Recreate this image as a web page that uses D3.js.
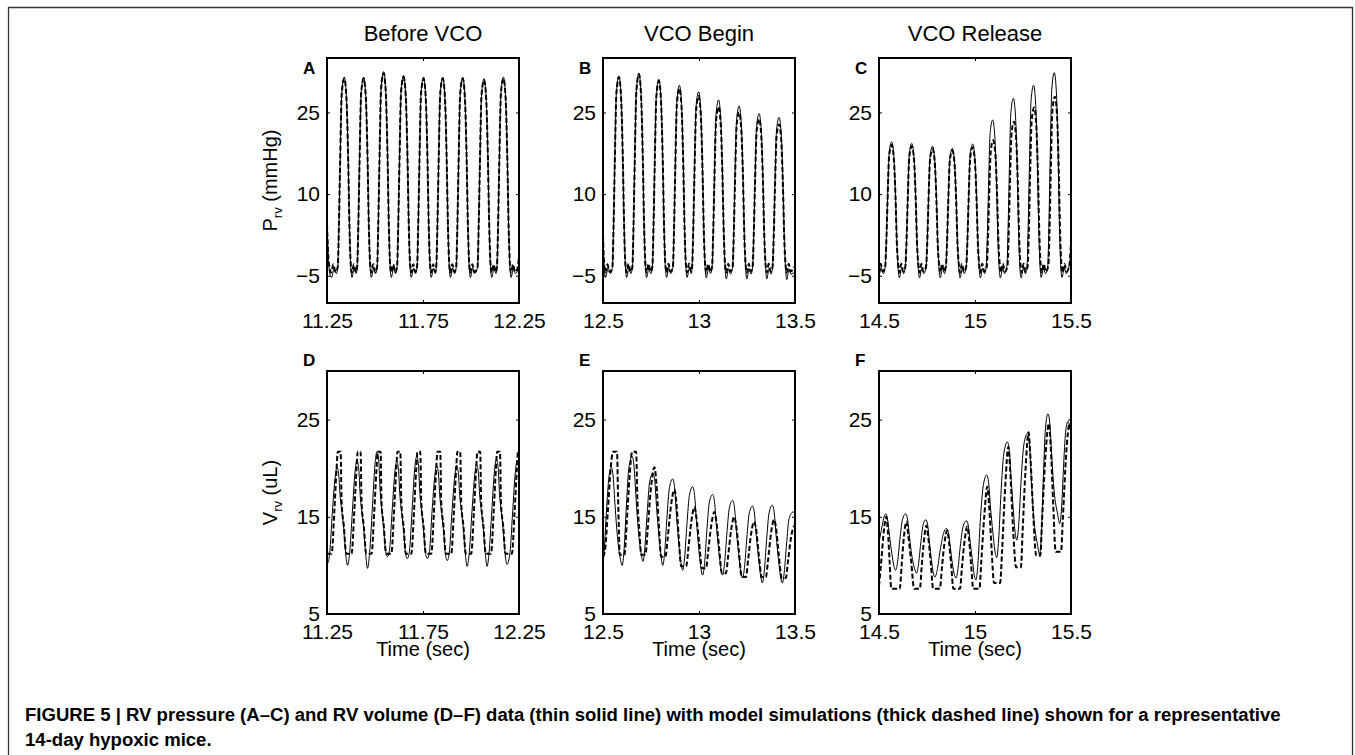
<!DOCTYPE html>
<html>
<head>
<meta charset="utf-8">
<script src="https://cdn.jsdelivr.net/npm/d3@7"></script>
<style>
body { margin: 0; background: #fff; }
svg { display: block; font-family: "Liberation Sans", Arial, Helvetica, sans-serif; }
</style>
</head>
<body>
<svg width="1355" height="755"></svg>
<script>
// ---- data: [time (sec), value] ----

var titles = ["Before VCO", "VCO Begin", "VCO Release"];
var letters = ["A", "B", "C", "D", "E", "F"];
var xDomains = [[11.25, 12.25], [12.5, 13.5], [14.5, 15.5]];
var xTickValues = [[11.25, 11.75, 12.25], [12.5, 13, 13.5], [14.5, 15, 15.5]];
var pressureDomain = [-10, 35];
var pressureTicks = [-5, 10, 25];
var volumeDomain = [5, 30];
var volumeTicks = [5, 15, 25];
var captionLines = [
  "FIGURE 5 | RV pressure (A\u2013C) and RV volume (D\u2013F) data (thin solid line) with model simulations (thick dashed line) shown for a representative",
  "14-day hypoxic mice."
];

// RV pressure, mmHg (thin solid = data, thick dashed = model)
var pressureDataA = [[11.25,5],[11.256,-1],[11.263,-4.3],[11.274,-5.3],[11.287,-3.6],[11.298,-4.6],
  [11.306,-3.4],[11.312,4.1],[11.318,15.1],[11.327,28.6],[11.340,31.5],[11.351,27.9],[11.360,16.9],[11.367,4.1],[11.374,-3.5],[11.380,-5.3],[11.392,-3.6],[11.402,-4.6],
  [11.407,-3.4],[11.413,4.1],[11.419,15.1],[11.428,28.6],[11.441,31.5],[11.452,27.9],[11.461,16.9],[11.468,4.1],[11.475,-3.5],[11.481,-5.3],[11.493,-3.6],[11.503,-4.6],
  [11.511,-3.4],[11.517,4.4],[11.523,15.6],[11.532,29.5],[11.545,32.5],[11.556,28.8],[11.565,17.5],[11.572,4.4],[11.579,-3.5],[11.585,-5.3],[11.597,-3.6],[11.607,-4.6],
  [11.615,-3.4],[11.621,4.2],[11.627,15.2],[11.636,28.9],[11.649,31.8],[11.660,28.1],[11.669,17.1],[11.676,4.2],[11.683,-3.5],[11.689,-5.3],[11.701,-3.6],[11.711,-4.6],
  [11.719,-3.4],[11.725,4.1],[11.731,15.1],[11.740,28.6],[11.753,31.5],[11.764,27.9],[11.773,16.9],[11.780,4.1],[11.787,-3.5],[11.793,-5.3],[11.805,-3.6],[11.815,-4.6],
  [11.819,-3.4],[11.825,4.1],[11.831,15.1],[11.840,28.6],[11.853,31.5],[11.864,27.9],[11.873,16.9],[11.880,4.1],[11.887,-3.5],[11.893,-5.3],[11.905,-3.6],[11.915,-4.6],
  [11.923,-3.4],[11.929,4.1],[11.935,15.1],[11.944,28.6],[11.957,31.5],[11.968,27.9],[11.977,16.9],[11.984,4.1],[11.991,-3.5],[11.997,-5.3],[12.009,-3.6],[12.019,-4.6],
  [12.034,-3.4],[12.040,4.1],[12.046,14.9],[12.055,28.3],[12.068,31.2],[12.079,27.6],[12.088,16.7],[12.095,4.1],[12.102,-3.5],[12.108,-5.3],[12.120,-3.6],[12.130,-4.6],
  [12.135,-3.4],[12.141,4.1],[12.147,15.1],[12.156,28.6],[12.169,31.5],[12.180,27.9],[12.189,16.9],[12.196,4.1],[12.203,-3.5],[12.209,-5.3],[12.221,-3.6],[12.231,-4.6],
  [12.241,-4.2],[12.25,-2.5]];

var pressureModelA = [[11.25,4.5],[11.256,-1],[11.263,-3.4],[11.272,-4.4],[11.283,-2.9],[11.294,-4.3],
  [11.306,-3.4],[11.312,4.1],[11.318,15.1],[11.327,28.6],[11.340,31.2],[11.351,27.9],[11.360,16.9],[11.367,4.1],[11.374,-3.0],[11.380,-4.4],[11.390,-2.9],[11.400,-4.3],
  [11.407,-3.4],[11.413,4.1],[11.419,15.1],[11.428,28.6],[11.441,31.2],[11.452,27.9],[11.461,16.9],[11.468,4.1],[11.475,-3.0],[11.481,-4.4],[11.491,-2.9],[11.501,-4.3],
  [11.511,-3.4],[11.517,4.4],[11.523,15.6],[11.532,29.5],[11.545,32.2],[11.556,28.8],[11.565,17.5],[11.572,4.4],[11.579,-3.0],[11.585,-4.4],[11.595,-2.9],[11.605,-4.3],
  [11.615,-3.4],[11.621,4.2],[11.627,15.2],[11.636,28.9],[11.649,31.5],[11.660,28.1],[11.669,17.1],[11.676,4.2],[11.683,-3.0],[11.689,-4.4],[11.699,-2.9],[11.709,-4.3],
  [11.719,-3.4],[11.725,4.1],[11.731,15.1],[11.740,28.6],[11.753,31.2],[11.764,27.9],[11.773,16.9],[11.780,4.1],[11.787,-3.0],[11.793,-4.4],[11.803,-2.9],[11.813,-4.3],
  [11.819,-3.4],[11.825,4.1],[11.831,15.1],[11.840,28.6],[11.853,31.2],[11.864,27.9],[11.873,16.9],[11.880,4.1],[11.887,-3.0],[11.893,-4.4],[11.903,-2.9],[11.913,-4.3],
  [11.923,-3.4],[11.929,4.1],[11.935,15.1],[11.944,28.6],[11.957,31.2],[11.968,27.9],[11.977,16.9],[11.984,4.1],[11.991,-3.0],[11.997,-4.4],[12.007,-2.9],[12.017,-4.3],
  [12.034,-3.4],[12.040,4.1],[12.046,14.9],[12.055,28.3],[12.068,30.9],[12.079,27.6],[12.088,16.7],[12.095,4.1],[12.102,-3.0],[12.108,-4.4],[12.118,-2.9],[12.128,-4.3],
  [12.135,-3.4],[12.141,4.1],[12.147,15.1],[12.156,28.6],[12.169,31.2],[12.180,27.9],[12.189,16.9],[12.196,4.1],[12.203,-3.0],[12.209,-4.4],[12.219,-2.9],[12.229,-4.3],
  [12.241,-3.8],[12.25,-1.5]];

var pressureDataB = [[12.5,3],[12.506,-3.5],[12.513,-5.3],[12.527,-3.6],[12.540,-4.6],
  [12.549,-3.4],[12.555,4.2],[12.561,15.2],[12.570,28.8],[12.583,31.7],[12.594,28.0],[12.603,17.0],[12.610,4.2],[12.617,-3.5],[12.623,-5.3],[12.635,-3.6],[12.645,-4.6],
  [12.653,-3.4],[12.659,4.3],[12.665,15.5],[12.674,29.2],[12.687,32.2],[12.698,28.5],[12.707,17.3],[12.714,4.3],[12.721,-3.5],[12.727,-5.3],[12.739,-3.6],[12.749,-4.6],
  [12.757,-3.4],[12.763,4.0],[12.769,14.9],[12.778,28.2],[12.791,31.1],[12.802,27.5],[12.811,16.7],[12.818,4.0],[12.825,-3.5],[12.831,-5.3],[12.843,-3.6],[12.853,-4.6],
  [12.864,-3.4],[12.870,3.8],[12.876,14.3],[12.885,27.2],[12.898,30.0],[12.909,26.5],[12.918,16.0],[12.925,3.8],[12.932,-3.5],[12.938,-5.3],[12.950,-3.6],[12.960,-4.6],
  [12.964,-3.4],[12.970,3.5],[12.976,13.6],[12.985,26.1],[12.998,28.8],[13.009,25.4],[13.018,15.3],[13.025,3.5],[13.032,-3.5],[13.038,-5.4],[13.050,-3.6],[13.060,-4.6],
  [13.068,-3.4],[13.074,3.1],[13.080,12.8],[13.089,24.7],[13.102,27.3],[13.113,24.1],[13.122,14.4],[13.129,3.1],[13.136,-3.6],[13.142,-5.6],[13.154,-3.7],[13.164,-4.7],
  [13.175,-3.4],[13.181,2.8],[13.187,12.2],[13.196,23.7],[13.209,26.2],[13.220,23.1],[13.229,13.7],[13.236,2.8],[13.243,-3.6],[13.249,-5.6],[13.261,-3.7],[13.271,-4.7],
  [13.279,-3.4],[13.285,2.5],[13.291,11.4],[13.300,22.4],[13.313,24.8],[13.324,21.8],[13.333,12.9],[13.340,2.5],[13.347,-3.6],[13.353,-5.6],[13.365,-3.7],[13.375,-4.7],
  [13.383,-3.4],[13.389,2.3],[13.395,11.0],[13.404,21.8],[13.417,24.1],[13.428,21.2],[13.437,12.5],[13.444,2.3],[13.451,-3.7],[13.457,-5.7],[13.469,-3.8],[13.479,-4.7],
  [13.5,-4.2]];

var pressureModelB = [[12.5,2.5],[12.506,-3],[12.512,-4.4],[12.523,-2.9],[12.535,-4.3],
  [12.549,-3.4],[12.555,4.1],[12.561,15.1],[12.570,28.6],[12.583,31.5],[12.594,27.9],[12.603,16.9],[12.610,4.1],[12.617,-3.0],[12.623,-4.4],[12.633,-2.8],[12.643,-4.2],
  [12.653,-3.4],[12.659,4.3],[12.665,15.4],[12.674,29.0],[12.687,32.0],[12.698,28.3],[12.707,17.2],[12.714,4.3],[12.721,-3.0],[12.727,-4.4],[12.737,-2.8],[12.747,-4.2],
  [12.757,-3.4],[12.763,4.0],[12.769,14.7],[12.778,27.9],[12.791,30.8],[12.802,27.2],[12.811,16.5],[12.818,4.0],[12.825,-3.0],[12.831,-4.4],[12.841,-2.8],[12.851,-4.2],
  [12.864,-3.4],[12.870,3.6],[12.876,13.9],[12.885,26.6],[12.898,29.4],[12.909,26.0],[12.918,15.6],[12.925,3.6],[12.932,-3.0],[12.938,-4.4],[12.948,-2.8],[12.958,-4.2],
  [12.964,-3.4],[12.970,3.3],[12.976,13.2],[12.985,25.4],[12.998,28.0],[13.009,24.7],[13.018,14.8],[13.025,3.3],[13.032,-3.0],[13.038,-4.4],[13.048,-2.8],[13.058,-4.2],
  [13.068,-3.4],[13.074,2.8],[13.080,12.1],[13.089,23.5],[13.102,26.0],[13.113,22.9],[13.122,13.6],[13.129,2.8],[13.136,-3.0],[13.142,-4.4],[13.152,-2.8],[13.162,-4.2],
  [13.175,-3.4],[13.181,2.5],[13.187,11.5],[13.196,22.6],[13.209,25.0],[13.220,22.0],[13.229,13.0],[13.236,2.5],[13.243,-3.0],[13.249,-4.4],[13.259,-2.8],[13.269,-4.2],
  [13.279,-3.4],[13.285,2.2],[13.291,10.8],[13.300,21.5],[13.313,23.8],[13.324,20.9],[13.333,12.3],[13.340,2.2],[13.347,-3.0],[13.353,-4.4],[13.363,-2.8],[13.373,-4.2],
  [13.383,-3.4],[13.389,2.0],[13.395,10.3],[13.404,20.6],[13.417,22.8],[13.428,20.0],[13.437,11.7],[13.444,2.0],[13.451,-3.0],[13.457,-4.4],[13.467,-2.8],[13.477,-4.2],
  [13.490,-3.8],[13.5,-3.2]];

var pressureDataC = [[14.5,-5.3],[14.512,-3.6],[14.523,-4.6],
  [14.532,-3.4],[14.538,1.2],[14.544,8.5],[14.553,17.6],[14.566,19.6],[14.577,17.1],[14.586,9.8],[14.593,1.2],[14.600,-3.8],[14.606,-5.4],[14.618,-3.6],[14.628,-4.6],
  [14.637,-3.4],[14.643,1.1],[14.649,8.4],[14.658,17.4],[14.671,19.3],[14.682,16.9],[14.691,9.6],[14.698,1.1],[14.705,-3.8],[14.711,-5.4],[14.723,-3.6],[14.733,-4.6],
  [14.745,-3.4],[14.751,1.0],[14.757,8.1],[14.766,16.9],[14.779,18.8],[14.790,16.4],[14.799,9.3],[14.806,1.0],[14.813,-3.8],[14.819,-5.4],[14.831,-3.6],[14.841,-4.6],
  [14.848,-3.4],[14.854,0.9],[14.860,7.9],[14.869,16.5],[14.882,18.4],[14.893,16.1],[14.902,9.0],[14.909,0.9],[14.916,-3.8],[14.922,-5.4],[14.934,-3.6],[14.944,-4.6],
  [14.954,-3.4],[14.960,1.1],[14.966,8.3],[14.975,17.3],[14.988,19.2],[14.999,16.8],[15.008,9.5],[15.015,1.1],[15.022,-3.8],[15.028,-5.4],[15.040,-3.6],[15.050,-4.6],
  [15.058,-3.3],[15.064,2.2],[15.070,10.7],[15.079,21.3],[15.092,23.6],[15.103,20.7],[15.112,12.2],[15.119,2.2],[15.126,-3.7],[15.132,-5.4],[15.144,-3.6],[15.154,-4.6],
  [15.166,-3.3],[15.172,3.2],[15.178,12.9],[15.187,25.0],[15.200,27.6],[15.211,24.3],[15.220,14.6],[15.227,3.2],[15.234,-3.6],[15.240,-5.4],[15.252,-3.6],[15.262,-4.6],
  [15.271,-3.2],[15.277,3.8],[15.283,14.3],[15.292,27.2],[15.305,30.0],[15.316,26.5],[15.325,16.0],[15.332,3.8],[15.339,-3.5],[15.345,-5.3],[15.357,-3.6],[15.367,-4.6],
  [15.379,-3.2],[15.385,4.3],[15.391,15.5],[15.400,29.3],[15.413,32.3],[15.424,28.6],[15.433,17.4],[15.440,4.3],[15.447,-3.5],[15.453,-5.3],[15.465,-3.6],[15.475,-4.6],
  [15.489,-3.4],[15.5,-1]];

var pressureModelC = [[14.5,-4.4],[14.509,-2.8],[14.518,-4.2],
  [14.532,-3.4],[14.538,1.0],[14.544,8.2],[14.553,17.1],[14.566,19.0],[14.577,16.6],[14.586,9.4],[14.593,1.0],[14.600,-3.0],[14.606,-4.4],[14.616,-2.8],[14.626,-4.2],
  [14.637,-3.4],[14.643,1.0],[14.649,8.1],[14.658,16.9],[14.671,18.8],[14.682,16.4],[14.691,9.3],[14.698,1.0],[14.705,-3.0],[14.711,-4.4],[14.721,-2.8],[14.731,-4.2],
  [14.745,-3.4],[14.751,0.8],[14.757,7.8],[14.766,16.4],[14.779,18.3],[14.790,16.0],[14.799,9.0],[14.806,0.8],[14.813,-3.0],[14.819,-4.4],[14.829,-2.8],[14.839,-4.2],
  [14.848,-3.4],[14.854,0.8],[14.860,7.7],[14.869,16.2],[14.882,18.0],[14.893,15.7],[14.902,8.8],[14.909,0.8],[14.916,-3.0],[14.922,-4.4],[14.932,-2.8],[14.942,-4.2],
  [14.954,-3.4],[14.960,0.9],[14.966,8.0],[14.975,16.7],[14.988,18.6],[14.999,16.2],[15.008,9.2],[15.015,0.9],[15.022,-3.0],[15.028,-4.4],[15.038,-2.8],[15.048,-4.2],
  [15.061,-3.4],[15.067,1.2],[15.073,8.7],[15.082,17.9],[15.095,19.9],[15.106,17.4],[15.115,9.9],[15.122,1.2],[15.129,-3.0],[15.135,-4.4],[15.145,-2.8],[15.155,-4.2],
  [15.169,-3.3],[15.175,2.1],[15.181,10.6],[15.190,21.0],[15.203,23.3],[15.214,20.5],[15.223,12.0],[15.230,2.1],[15.237,-3.0],[15.243,-4.4],[15.253,-2.8],[15.263,-4.2],
  [15.274,-3.3],[15.280,2.7],[15.286,12.0],[15.295,23.4],[15.308,25.9],[15.319,22.8],[15.328,13.5],[15.335,2.7],[15.342,-3.0],[15.348,-4.4],[15.358,-2.8],[15.368,-4.2],
  [15.382,-3.2],[15.388,3.2],[15.394,13.1],[15.403,25.3],[15.416,27.9],[15.427,24.6],[15.436,14.7],[15.443,3.2],[15.450,-3.0],[15.456,-4.4],[15.466,-2.8],[15.476,-4.2],
  [15.490,-3.4],[15.5,1.0]];

// RV volume, uL
var volumeDataD = [[11.25,10.6],[11.256,10.3],
  [11.264,11.3],[11.278,15.5],[11.292,19.0],[11.302,20.1],[11.311,19.3],[11.319,17.0],[11.326,15.8],[11.337,13.8],[11.347,11.3],[11.357,10.0],
  [11.368,11.3],[11.382,15.5],[11.396,19.6],[11.406,20.8],[11.415,20.0],[11.423,17.2],[11.430,15.8],[11.441,13.8],[11.451,11.3],[11.461,9.7],
  [11.472,11.3],[11.486,15.8],[11.500,20.4],[11.510,21.7],[11.519,20.9],[11.527,17.6],[11.534,16.0],[11.545,13.8],[11.555,11.5],[11.565,10.9],
  [11.575,11.5],[11.589,15.5],[11.603,19.5],[11.613,20.7],[11.622,19.9],[11.630,17.1],[11.637,15.8],[11.648,13.8],[11.658,11.4],[11.668,10.7],
  [11.679,11.4],[11.693,15.6],[11.707,20.0],[11.717,21.2],[11.726,20.4],[11.734,17.3],[11.741,15.9],[11.752,13.8],[11.762,11.4],[11.772,10.7],
  [11.783,11.3],[11.797,15.5],[11.811,19.1],[11.821,20.3],[11.830,19.5],[11.838,17.0],[11.845,15.8],[11.856,13.8],[11.866,11.3],[11.876,10.5],
  [11.887,11.3],[11.901,15.5],[11.915,19.1],[11.925,20.3],[11.934,19.5],[11.942,17.0],[11.949,15.8],[11.960,13.8],[11.970,11.3],[11.980,9.9],
  [11.991,11.3],[12.005,15.5],[12.019,19.2],[12.029,20.4],[12.038,19.6],[12.046,17.0],[12.053,15.8],[12.064,13.8],[12.074,11.3],[12.084,9.9],
  [12.094,11.3],[12.108,15.5],[12.122,19.7],[12.132,20.9],[12.141,20.1],[12.149,17.2],[12.156,15.9],[12.167,13.8],[12.177,11.3],[12.187,10.1],
  [12.203,11.3],[12.217,15.5],[12.231,19.6],[12.241,20.8],[12.25,20.1]];

var volumeModelD = [[11.25,11.2],
  [11.274,11.2],[11.288,15.5],[11.300,20],[11.306,21.7],[11.321,21.7],[11.326,16.5],[11.338,14],[11.350,11.2],
  [11.378,11.2],[11.392,15.5],[11.404,20],[11.410,21.7],[11.425,21.7],[11.430,16.5],[11.442,14],[11.454,11.2],
  [11.482,11.2],[11.496,15.5],[11.508,20],[11.514,21.7],[11.529,21.7],[11.534,16.5],[11.546,14],[11.558,11.2],
  [11.585,11.2],[11.599,15.5],[11.611,20],[11.617,21.7],[11.632,21.7],[11.637,16.5],[11.649,14],[11.661,11.2],
  [11.689,11.2],[11.703,15.5],[11.715,20],[11.721,21.7],[11.736,21.7],[11.741,16.5],[11.753,14],[11.765,11.2],
  [11.793,11.2],[11.807,15.5],[11.819,20],[11.825,21.7],[11.840,21.7],[11.845,16.5],[11.857,14],[11.869,11.2],
  [11.897,11.2],[11.911,15.5],[11.923,20],[11.929,21.7],[11.944,21.7],[11.949,16.5],[11.961,14],[11.973,11.2],
  [12.001,11.2],[12.015,15.5],[12.027,20],[12.033,21.7],[12.048,21.7],[12.053,16.5],[12.065,14],[12.077,11.2],
  [12.104,11.2],[12.118,15.5],[12.130,20],[12.136,21.7],[12.151,21.7],[12.156,16.5],[12.168,14],[12.180,11.2],
  [12.213,11.2],[12.227,15.5],[12.239,20],[12.245,21.7],[12.25,21.7]];

var volumeDataE = [[12.5,10.0],[12.506,11.5],[12.518,15.6],[12.531,19.1],[12.543,20.1],
  [12.553,19.1],[12.563,16.1],[12.575,13.0],[12.589,10.8],[12.600,10.0],
  [12.610,11.7],[12.622,16.2],[12.635,20.1],[12.652,21.2],
  [12.662,20.1],[12.672,16.9],[12.684,13.6],[12.698,11.3],[12.708,10.4],
  [12.718,11.8],[12.730,15.4],[12.743,18.6],[12.760,19.5],
  [12.770,18.6],[12.780,15.7],[12.792,12.9],[12.803,10.8],[12.811,10.0],
  [12.821,11.3],[12.833,14.9],[12.846,18.0],[12.863,18.9],
  [12.873,18.0],[12.883,15.1],[12.895,12.3],[12.906,10.3],[12.915,9.5],
  [12.925,10.8],[12.937,14.2],[12.950,17.2],[12.967,18.1],
  [12.977,17.2],[12.987,14.5],[12.999,11.7],[13.010,9.7],[13.019,9.0],
  [13.029,10.2],[13.041,13.6],[13.054,16.5],[13.071,17.3],
  [13.081,16.5],[13.091,14.0],[13.103,11.5],[13.114,9.7],[13.123,9.0],
  [13.133,10.2],[13.145,13.2],[13.158,15.9],[13.175,16.7],
  [13.185,15.9],[13.195,13.5],[13.207,11.1],[13.218,9.3],[13.227,8.7],
  [13.237,9.8],[13.249,12.8],[13.262,15.4],[13.279,16.1],
  [13.289,15.3],[13.299,12.9],[13.311,10.6],[13.322,8.8],[13.330,8.2],
  [13.340,9.4],[13.352,12.6],[13.365,15.4],[13.382,16.2],
  [13.392,15.4],[13.402,13.0],[13.414,10.6],[13.425,8.8],[13.434,8.2],
  [13.444,9.3],[13.456,12.2],[13.469,14.8],[13.490,15.5],[13.5,15.3]];

var volumeModelE = [[12.5,10.9],[12.510,11.5],[12.525,15.5],[12.540,20.0],[12.552,21.7],[12.573,21.7],[12.578,17.5],[12.583,13.5],[12.587,11.1],[12.612,11.1],
  [12.624,14.5],[12.638,19.0],[12.652,21.7],[12.673,21.7],[12.678,17.5],[12.690,13.5],[12.699,11.1],[12.721,11.1],
  [12.733,13.8],[12.748,17.6],[12.768,20.1],[12.778,18.5],[12.790,14.5],[12.803,10.9],[12.825,10.9],
  [12.837,12.8],[12.852,15.8],[12.872,17.8],[12.882,16.5],[12.894,13.0],[12.907,9.9],[12.933,9.9],
  [12.946,12.0],[12.960,14.5],[12.976,16.0],[12.986,15.0],[13.000,12.5],[13.016,9.7],[13.036,9.7],
  [13.048,11.5],[13.063,14.0],[13.080,15.5],[13.090,14.6],[13.104,12.0],[13.119,9.2],[13.140,9.2],
  [13.152,11.0],[13.167,13.6],[13.183,15.0],[13.193,14.2],[13.207,11.6],[13.223,8.8],[13.244,8.8],
  [13.256,10.6],[13.271,13.2],[13.287,14.5],[13.297,13.8],[13.311,11.2],[13.327,8.8],[13.348,8.8],
  [13.360,10.6],[13.375,13.3],[13.391,14.7],[13.401,13.9],[13.415,11.2],[13.431,8.7],[13.452,8.7],
  [13.464,10.5],[13.479,12.8],[13.495,14.0],[13.5,13.9]];

var volumeDataF = [[14.5,12.4],[14.512,13.6],[14.524,14.8],[14.535,15.3],
  [14.545,14.7],[14.555,13.0],[14.567,11.2],[14.577,10.0],[14.587,9.5],
  [14.597,10.4],[14.609,12.7],[14.622,14.7],[14.639,15.3],
  [14.649,14.7],[14.659,12.9],[14.671,11.0],[14.685,9.7],[14.695,9.2],
  [14.705,10.0],[14.717,12.2],[14.730,14.2],[14.744,14.7],
  [14.754,14.1],[14.763,12.3],[14.773,10.6],[14.782,9.3],[14.791,8.8],
  [14.803,9.5],[14.819,11.6],[14.836,13.3],[14.852,13.8],
  [14.862,13.3],[14.872,11.8],[14.882,10.2],[14.892,9.1],[14.901,8.7],
  [14.911,9.6],[14.923,11.9],[14.938,14.0],[14.956,14.6],
  [14.966,14.0],[14.976,12.2],[14.988,10.3],[14.996,9.0],[15.005,8.5],
  [15.015,10.1],[15.027,14.4],[15.043,18.2],[15.061,19.3],
  [15.071,18.5],[15.081,15.9],[15.093,13.4],[15.104,11.5],[15.113,10.8],
  [15.123,12.6],[15.135,17.3],[15.150,21.5],[15.169,22.7],
  [15.179,21.7],[15.189,18.7],[15.200,15.6],[15.209,13.4],[15.218,12.6],
  [15.228,14.3],[15.240,18.7],[15.255,22.5],[15.274,23.6],
  [15.284,22.4],[15.294,18.6],[15.306,14.9],[15.326,12.1],[15.336,11.1],
  [15.346,13.3],[15.356,19.1],[15.367,24.1],[15.380,25.6],
  [15.390,24.5],[15.400,21.1],[15.412,17.7],[15.431,15.2],[15.441,14.3],
  [15.451,15.9],[15.461,20.1],[15.472,23.7],[15.484,24.8],[15.5,23.5]];

var volumeModelF = [[14.5,7.9],[14.512,10.5],[14.525,13.5],[14.538,15.0],[14.546,13.6],[14.555,10.5],[14.564,7.6],[14.608,7.6],
  [14.618,10.0],[14.630,13.0],[14.643,14.5],[14.652,13.2],[14.668,10.3],[14.683,7.6],[14.713,7.6],
  [14.722,9.8],[14.735,12.7],[14.747,14.1],[14.757,12.8],[14.770,10.2],[14.782,7.6],[14.817,7.6],
  [14.827,9.6],[14.841,12.3],[14.855,13.6],[14.865,12.3],[14.877,9.8],[14.887,7.6],[14.922,7.6],
  [14.932,9.8],[14.946,12.6],[14.960,14.0],[14.969,12.7],[14.980,10.0],[14.991,7.6],[15.023,7.6],
  [15.033,10.5],[15.048,15.0],[15.064,18.1],[15.074,16.0],[15.087,11.5],[15.099,8.2],[15.131,8.2],
  [15.141,11.5],[15.157,18.0],[15.174,22.2],[15.184,19.5],[15.199,13.5],[15.214,9.8],[15.239,9.8],
  [15.248,13.5],[15.263,19.8],[15.279,23.7],[15.289,21.0],[15.304,15.0],[15.319,11.0],[15.340,11.0],
  [15.349,14.5],[15.366,21.0],[15.385,24.6],[15.395,22.0],[15.408,16.0],[15.420,11.4],[15.448,11.4],
  [15.458,15.0],[15.475,21.5],[15.493,24.6],[15.5,24.0]];

// ---- layout ----
var svg = d3.select("svg");
var width = +svg.attr("width");
var height = +svg.attr("height");

var colLeft = [327, 603, 879];
var panelW = 192;
var rowTop = [58, 371];
var rowH = [245, 243];
var letterBase = [74, 366];

var dataSets = [pressureDataA, pressureDataB, pressureDataC, volumeDataD, volumeDataE, volumeDataF];
var modelSets = [pressureModelA, pressureModelB, pressureModelC, volumeModelD, volumeModelE, volumeModelF];

var panels = letters.map(function(l, i) {
  var row = Math.floor(i / 3), col = i % 3;
  return {
    letter: l, row: row, col: col,
    xDomain: xDomains[col], xTicks: xTickValues[col],
    yDomain: row == 0 ? pressureDomain : volumeDomain,
    yTicks: row == 0 ? pressureTicks : volumeTicks,
    data: dataSets[i], model: modelSets[i]
  };
});

function fmt(d) {
  return d < 0 ? "\u2212" + Math.abs(d) : String(d);
}

svg.append("rect").attr("width", width).attr("height", height).attr("fill", "#fff");

// page frame, open at the bottom
svg.append("path")
  .attr("d", "M8.5," + height + "V7.5H1352.5V" + height)
  .attr("fill", "none")
  .attr("stroke", "#333")
  .attr("stroke-width", 1.3);

panels.forEach(function(p, i) {
  var left = colLeft[p.col];
  var top = rowTop[p.row];
  var h = rowH[p.row];

  var x = d3.scaleLinear().domain(p.xDomain).range([left, left + panelW]);
  var y = d3.scaleLinear().domain(p.yDomain).range([top + h, top]);

  svg.append("clipPath").attr("id", "clip" + i)
    .append("rect")
    .attr("x", left).attr("y", top)
    .attr("width", panelW).attr("height", h);

  var line = d3.line()
    .x(function(d) { return x(d[0]); })
    .y(function(d) { return y(d[1]); })
    .curve(d3.curveMonotoneX);

  var g = svg.append("g");
  var plot = g.append("g").attr("clip-path", "url(#clip" + i + ")");

  // model simulation: thick dashed
  plot.append("path")
    .datum(p.model)
    .attr("fill", "none")
    .attr("stroke", "#000")
    .attr("stroke-width", 2)
    .attr("stroke-dasharray", "5,2.5")
    .attr("d", line);

  // data: thin solid
  plot.append("path")
    .datum(p.data)
    .attr("fill", "none")
    .attr("stroke", "#000")
    .attr("stroke-width", 1)
    .attr("d", line);

  // matlab style: ticks point inward on all four sides
  var axes = [
    g.append("g").attr("transform", "translate(" + left + ",0)")
      .call(d3.axisLeft(y).tickValues(p.yTicks).tickSize(-3).tickPadding(7).tickFormat(fmt)),
    g.append("g").attr("transform", "translate(" + (left + panelW) + ",0)")
      .call(d3.axisRight(y).tickValues(p.yTicks).tickSize(-3).tickFormat("")),
    g.append("g").attr("transform", "translate(0," + (top + h) + ")")
      .call(d3.axisBottom(x).tickValues(p.xTicks).tickSize(-3).tickPadding(10).tickFormat(fmt)),
    g.append("g").attr("transform", "translate(0," + top + ")")
      .call(d3.axisTop(x).tickValues(p.xTicks).tickSize(-3).tickFormat(""))
  ];
  axes.forEach(function(a) {
    a.attr("font-size", 21).attr("font-family", null);
    a.select(".domain").remove();
    a.selectAll(".tick line").attr("stroke", "#000");
    a.selectAll(".tick text").attr("fill", "#000");
  });

  g.append("rect")
    .attr("x", left).attr("y", top)
    .attr("width", panelW).attr("height", h)
    .attr("fill", "none")
    .attr("stroke", "#000")
    .attr("stroke-width", 2);

  // panel letter
  g.append("text")
    .attr("x", left - 24)
    .attr("y", letterBase[p.row])
    .attr("font-size", 17)
    .attr("font-weight", "bold")
    .text(p.letter);

  if (p.row == 0) {
    g.append("text")
      .attr("x", left + panelW / 2)
      .attr("y", 41)
      .attr("text-anchor", "middle")
      .attr("font-size", 22)
      .text(titles[p.col]);
  } else {
    g.append("text")
      .attr("x", left + panelW / 2)
      .attr("y", 656)
      .attr("text-anchor", "middle")
      .attr("font-size", 20)
      .text("Time (sec)");
  }

  if (p.col == 0) {
    var lab = g.append("text")
      .attr("transform", "translate(277," + (top + h / 2) + ") rotate(-90)")
      .attr("text-anchor", "middle")
      .attr("font-size", 20);
    lab.append("tspan").text(p.row == 0 ? "P" : "V");
    lab.append("tspan").attr("dy", 5).attr("font-size", 13).text("rv");
    lab.append("tspan").attr("dy", -5).text(p.row == 0 ? " (mmHg)" : " (uL)");
  }
});

// caption, font size picked so the first line is as wide as in the original
var capSize = 17;
var cap = svg.append("g").attr("font-weight", "bold").attr("fill", "#000").attr("font-size", capSize);
var capText = captionLines.map(function(s, i) {
  return cap.append("text").attr("x", 25).attr("y", 721 + i * 25).text(s);
});
var w = capText[0].node().getComputedTextLength();
cap.attr("font-size", capSize * 1257 / w);
</script>
</body>
</html>
